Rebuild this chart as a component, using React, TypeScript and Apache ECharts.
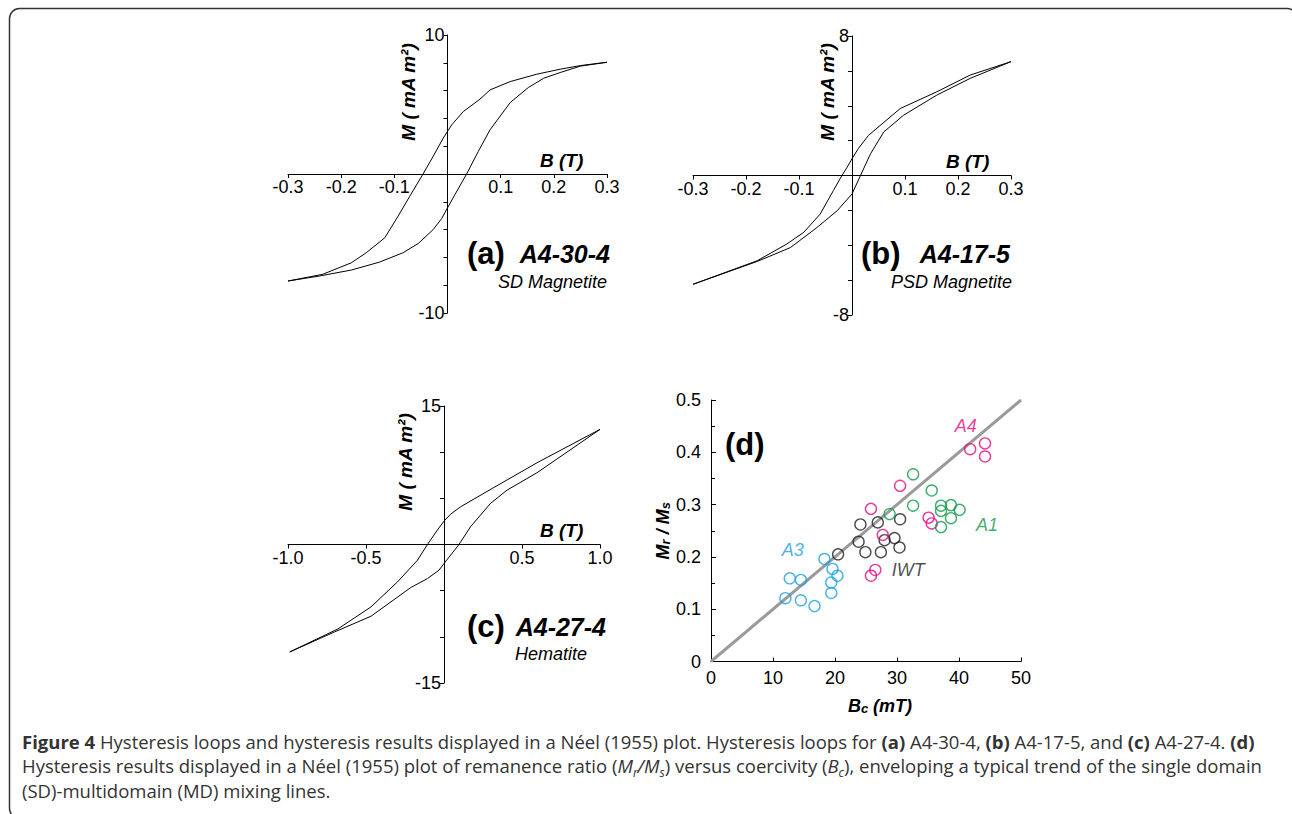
import React, { useEffect, useRef } from "react";
import * as echarts from "echarts";

// ---------- DATA ----------
// (a) A4-30-4 SD magnetite: B (T), M (mA m^2)
const loopA_descending: [number, number][] = [
  [0.3, 8.04], [0.25, 7.8], [0.212, 7.54], [0.168, 7.18], [0.118, 6.65], [0.08, 6.05],
  [0.061, 5.38], [0.03, 4.5], [0.008, 3.54], [0, 3.06], [-0.008, 2.58], [-0.027, 1.27],
  [-0.046, 0], [-0.071, -1.6], [-0.093, -3.04], [-0.118, -4.59], [-0.153, -5.67],
  [-0.181, -6.39], [-0.235, -7.22], [-0.3, -7.7],
];
const loopA_ascending: [number, number][] = [
  [-0.3, -7.7], [-0.241, -7.34], [-0.181, -6.91], [-0.128, -6.34], [-0.084, -5.67],
  [-0.055, -5.0], [-0.027, -4.0], [-0.011, -3.21], [0, -2.44], [0.014, -1.48], [0.036, 0],
  [0.058, 1.63], [0.08, 3.18], [0.118, 5.14], [0.152, 6.22], [0.181, 6.89], [0.212, 7.3],
  [0.25, 7.76], [0.3, 8.04],
];
// (b) A4-17-5 PSD magnetite
const loopB_descending: [number, number][] = [
  [0.3, 6.53], [0.223, 5.76], [0.16, 4.8], [0.091, 3.84], [0.031, 2.3], [0.012, 1.55],
  [0, 0.96], [-0.009, 0.48], [-0.019, 0], [-0.035, -0.86], [-0.06, -2.21], [-0.091, -3.26],
  [-0.123, -3.93], [-0.179, -4.89], [-0.3, -6.24],
];
const loopB_ascending: [number, number][] = [
  [-0.3, -6.24], [-0.179, -4.93], [-0.116, -4.13], [-0.066, -2.98], [-0.028, -2.02],
  [0, -1.06], [0.016, 0], [0.035, 1.25], [0.06, 2.5], [0.097, 3.45], [0.16, 4.61],
  [0.223, 5.57], [0.3, 6.53],
];
// (c) A4-27-4 hematite
const loopC_descending: [number, number][] = [
  [1, 12.47], [0.596, 8.85], [0.309, 6.07], [0.106, 4.08], [0.043, 3.29], [0, 2.53],
  [-0.043, 1.55], [-0.106, 0], [-0.17, -1.7], [-0.298, -4.05], [-0.468, -6.76],
  [-0.681, -9.15], [-0.989, -11.64],
];
const loopC_ascending: [number, number][] = [
  [-0.989, -11.64], [-0.702, -9.47], [-0.468, -7.77], [-0.213, -4.66], [-0.106, -3.69],
  [-0.032, -2.78], [0, -2.06], [0.096, 0], [0.17, 1.92], [0.298, 4.45], [0.404, 5.89],
  [0.596, 7.77], [1, 12.47],
];

// (d) Néel plot: Bc (mT), Mr/Ms
const groupA3: [number, number][] = [
  [12.0, 0.121], [12.7, 0.159], [14.5, 0.156], [14.5, 0.117], [16.7, 0.106],
  [18.3, 0.196], [19.6, 0.177], [20.4, 0.164], [19.4, 0.151], [19.4, 0.131],
];
const groupIWT: [number, number][] = [
  [20.5, 0.205], [24.1, 0.262], [23.8, 0.229], [24.9, 0.209], [26.9, 0.266],
  [27.4, 0.209], [28.0, 0.232], [29.6, 0.236], [30.5, 0.272], [30.4, 0.218],
];
const groupA4: [number, number][] = [
  [25.8, 0.292], [30.5, 0.336], [27.7, 0.242], [25.8, 0.164], [26.5, 0.175],
  [35.1, 0.275], [35.6, 0.264], [41.8, 0.406], [44.2, 0.417], [44.2, 0.392],
];
const groupA1: [number, number][] = [
  [28.8, 0.282], [32.6, 0.358], [32.6, 0.298], [35.6, 0.327], [37.1, 0.298],
  [37.1, 0.288], [38.7, 0.299], [40.1, 0.29], [38.7, 0.274], [37.1, 0.257],
];
const sdMdLine: [number, number][] = [[0, 0], [50, 0.5]];
const groupNames = ["A4", "A1", "IWT", "A3"];
const groupLabelPos: [number, number][] = [[41.1, 0.451], [44.5, 0.261], [31.8, 0.175], [13.2, 0.213]];

// ---------- STYLE ----------
const FONT = "'Liberation Sans', Arial, Helvetica, sans-serif";
const CAP_FONT = "'Open Sans', 'Noto Sans', sans-serif";
const CAP_SIZE = 18.5;
const CAP_LH = 24.5;
const COLORS: Record<string, string> = {
  A4: "#e4097f",
  A1: "#0f9a48",
  IWT: "#231f20",
  A3: "#1aa0e0",
};

function loopAxes(grid: number, w: number, h: number, xMax: number, xInt: number, yMax: number, yInt: number, dec: number) {
  const x = {
    gridIndex: grid,
    type: "value",
    position: "bottom",
    offset: -h / 2,
    min: -xMax,
    max: xMax,
    interval: xInt,
    axisLine: { onZero: false, lineStyle: { color: "#000", width: 1 } },
    axisTick: { show: true, length: 4, lineStyle: { color: "#000" } },
    axisLabel: {
      margin: 4,
      fontSize: 18,
      color: "#000",
      fontFamily: FONT,
      formatter: (v: number) => (Math.abs(v) < 1e-9 ? "" : v.toFixed(dec)),
    },
    splitLine: { show: false },
  };
  const y = {
    gridIndex: grid,
    type: "value",
    position: "left",
    offset: -w / 2,
    min: -yMax,
    max: yMax,
    interval: yInt,
    axisLine: { onZero: false, lineStyle: { color: "#000", width: 1 } },
    axisTick: { show: true, length: 4, lineStyle: { color: "#000" } },
    axisLabel: {
      margin: 3,
      fontSize: 18,
      color: "#000",
      fontFamily: FONT,
      formatter: (v: number) => (Math.abs(Math.abs(v) - yMax) < 1e-9 ? String(v) : ""),
    },
    splitLine: { show: false },
  };
  return { x, y };
}

function loopSeries(idx: number, data: [number, number][]) {
  return {
    type: "line",
    xAxisIndex: idx,
    yAxisIndex: idx,
    data,
    showSymbol: false,
    symbol: "none",
    silent: true,
    lineStyle: { color: "#000", width: 1 },
  };
}

function vText(x: number, y: number, text: string) {
  return {
    type: "text",
    x,
    y,
    rotation: Math.PI / 2,
    style: {
      text,
      fill: "#000",
      font: `italic bold 19px ${FONT}`,
      textAlign: "center",
      textVerticalAlign: "middle",
    },
  };
}

function hText(x: number, y: number, text: string, font: string, align = "left") {
  return {
    type: "text",
    x,
    y,
    style: { text, fill: "#000", font, textAlign: align, textVerticalAlign: "middle" },
  };
}

export default function App() {
  const ref = useRef<HTMLDivElement>(null);
  useEffect(() => {
    if (!ref.current) return;
    const chart = echarts.init(ref.current, undefined, { renderer: "svg" });
    const grids = [
      { left: 288, top: 35, width: 319, height: 278 },
      { left: 693, top: 36, width: 318, height: 279 },
      { left: 288, top: 406, width: 312, height: 277 },
      { left: 711, top: 400, width: 310, height: 261.5 },
    ];
    const a = loopAxes(0, grids[0].width, grids[0].height, 0.3, 0.1, 10, 2, 1);
    const b = loopAxes(1, grids[1].width, grids[1].height, 0.3, 0.1, 8, 2, 1);
    const c = loopAxes(2, grids[2].width, grids[2].height, 1.0, 0.5, 15, 5, 1);

    const nameRich = {
      m: { fontFamily: FONT, fontSize: 18, fontStyle: "italic", fontWeight: "bold", color: "#000" },
      s: { fontFamily: FONT, fontSize: 13, fontStyle: "italic", fontWeight: "bold", color: "#000", verticalAlign: "bottom", lineHeight: 14 },
    };
    const dX = {
      gridIndex: 3,
      type: "value",
      min: 0,
      max: 50,
      interval: 10,
      name: "{m|B}{s|c}{m| (mT)}",
      nameLocation: "middle",
      nameGap: 35,
      nameTextStyle: { padding: [0, 0, 0, 28], rich: nameRich },
      axisLine: { onZero: false, lineStyle: { color: "#000", width: 1 } },
      axisTick: { show: true, inside: true, length: 4, lineStyle: { color: "#000" } },
      axisLabel: { margin: 7, fontSize: 18, color: "#000", fontFamily: FONT },
      splitLine: { show: false },
    };
    const dY = {
      gridIndex: 3,
      type: "value",
      min: 0,
      max: 0.5,
      interval: 0.1,
      name: "{m|M}{s|r}{m| / M}{s|s}",
      nameLocation: "middle",
      nameRotate: 90,
      nameGap: 36,
      nameTextStyle: { rich: nameRich },
      axisLine: { onZero: false, lineStyle: { color: "#000", width: 1 } },
      axisTick: { show: true, inside: true, length: 5, lineStyle: { color: "#000" } },
      minorTick: { show: true, splitNumber: 2, length: 4, lineStyle: { color: "#000" } },
      axisLabel: { margin: 10, fontSize: 18, color: "#000", fontFamily: FONT },
      splitLine: { show: false },
    };

    const groups: [string, [number, number][]][] = [
      ["A3", groupA3],
      ["IWT", groupIWT],
      ["A4", groupA4],
      ["A1", groupA1],
    ];

    const captionRich = {
      b: { fontFamily: CAP_FONT, fontSize: CAP_SIZE, fontWeight: "bold", fill: "#333", lineHeight: CAP_LH },
      i: { fontFamily: CAP_FONT, fontSize: CAP_SIZE, fontStyle: "italic", fill: "#333", lineHeight: CAP_LH },
      sub: { fontFamily: CAP_FONT, fontSize: 12, fontStyle: "italic", fill: "#333", lineHeight: 15, verticalAlign: "bottom" },
    };
    const caption =
      "{b|Figure 4} Hysteresis loops and hysteresis results displayed in a Néel (1955) plot. Hysteresis loops for {b|(a)} A4-30-4, {b|(b)} A4-17-5, and {b|(c)} A4-27-4. {b|(d)}\n" +
      "Hysteresis results displayed in a Néel (1955) plot of remanence ratio ({i|M}{sub|r}{i|/M}{sub|s}) versus coercivity ({i|B}{sub|c}), enveloping a typical trend of the single domain\n" +
      "(SD)-multidomain (MD) mixing lines.";

    const option: any = {
      animation: false,
      backgroundColor: "#fff",
      grid: grids,
      xAxis: [a.x, b.x, c.x, dX],
      yAxis: [a.y, b.y, c.y, dY],
      series: [
        loopSeries(0, loopA_descending),
        loopSeries(0, loopA_ascending),
        loopSeries(1, loopB_descending),
        loopSeries(1, loopB_ascending),
        loopSeries(2, loopC_descending),
        loopSeries(2, loopC_ascending),
        {
          type: "line",
          xAxisIndex: 3,
          yAxisIndex: 3,
          data: sdMdLine,
          showSymbol: false,
          symbol: "none",
          silent: true,
          lineStyle: { color: "#9a9a9a", width: 3 },
          z: 1,
        },
        ...groups.map(([name, data]) => ({
          type: "scatter",
          name,
          xAxisIndex: 3,
          yAxisIndex: 3,
          data,
          symbol: "circle",
          symbolSize: 11,
          itemStyle: { color: "rgba(255,255,255,0)", borderColor: COLORS[name], borderWidth: 1.4 },
          z: 3,
        })),
        {
          type: "scatter",
          xAxisIndex: 3,
          yAxisIndex: 3,
          symbolSize: 0,
          silent: true,
          data: groupNames.map((n, i) => ({
            name: n,
            value: groupLabelPos[i],
            label: { color: COLORS[n] },
          })),
          label: {
            show: true,
            position: "inside",
            formatter: "{b}",
            fontSize: 18,
            fontStyle: "italic",
            fontFamily: FONT,
          },
          z: 4,
        },
      ],
      graphic: [
        {
          type: "rect",
          shape: { x: 9.5, y: 8.5, width: 1287.5, height: 810, r: 10 },
          style: { fill: "none", stroke: "#333", lineWidth: 1.5 },
          silent: true,
        },
        vText(408, 92, "M ( mA m²)"),
        vText(827, 92, "M ( mA m²)"),
        vText(405, 462, "M ( mA m²)"),
        hText(540, 160, "B (T)", `italic bold 19px ${FONT}`),
        hText(946, 161, "B (T)", `italic bold 19px ${FONT}`),
        hText(540, 530, "B (T)", `italic bold 19px ${FONT}`),
        hText(467, 253, "(a)", `bold 31px ${FONT}`),
        hText(610, 254, "A4-30-4", `italic bold 25px ${FONT}`, "right"),
        hText(607, 282, "SD Magnetite", `italic 18px ${FONT}`, "right"),
        hText(861, 253, "(b)", `bold 31px ${FONT}`),
        hText(1010, 254, "A4-17-5", `italic bold 25px ${FONT}`, "right"),
        hText(1012, 282, "PSD Magnetite", `italic 18px ${FONT}`, "right"),
        hText(467, 626, "(c)", `bold 31px ${FONT}`),
        hText(606, 627, "A4-27-4", `italic bold 25px ${FONT}`, "right"),
        hText(515, 654, "Hematite", `italic 18px ${FONT}`),
        hText(725, 444, "(d)", `bold 31px ${FONT}`),
        {
          type: "text",
          x: 22,
          y: 729,
          style: {
            text: caption,
            rich: captionRich,
            fontFamily: CAP_FONT,
            fontSize: CAP_SIZE,
            lineHeight: CAP_LH,
            fill: "#333",
            textAlign: "left",
            textVerticalAlign: "top",
          },
        },
      ],
    };
    chart.setOption(option);
    return () => chart.dispose();
  }, []);
  return (
    <div
      ref={ref}
      style={{ position: "fixed", left: 0, top: 0, width: 1292, height: 814, background: "#fff" }}
    />
  );
}
